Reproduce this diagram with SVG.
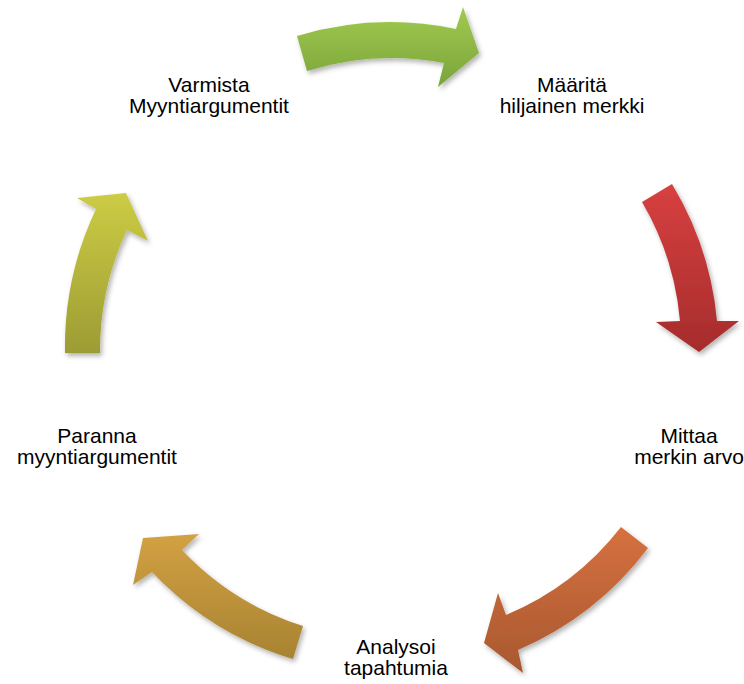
<svg xmlns="http://www.w3.org/2000/svg" width="744" height="684" viewBox="0 0 744 684">
<style>
.lbl{font-family:"Liberation Sans",Arial,sans-serif;font-size:21px;fill:#000;text-anchor:middle}
.arr{filter:url(#sh)}
</style>
<defs>
<filter id="sh" x="-20%" y="-20%" width="150%" height="150%">
<feDropShadow dx="2" dy="3" stdDeviation="2.5" flood-color="#000" flood-opacity="0.3"/>
</filter>
<linearGradient id="gGreen" x1="0" y1="0" x2="0" y2="1"><stop offset="0" stop-color="#a2ca50"/><stop offset="1" stop-color="#7aa43a"/></linearGradient>
<linearGradient id="gRed" x1="0" y1="0" x2="0" y2="1"><stop offset="0" stop-color="#d84040"/><stop offset="1" stop-color="#a62c2c"/></linearGradient>
<linearGradient id="gOrange" x1="0" y1="0" x2="0" y2="1"><stop offset="0" stop-color="#d6713f"/><stop offset="1" stop-color="#a85830"/></linearGradient>
<linearGradient id="gGold" x1="0" y1="0" x2="0" y2="1"><stop offset="0" stop-color="#d2a143"/><stop offset="1" stop-color="#a88332"/></linearGradient>
<linearGradient id="gYel" x1="0" y1="0" x2="0" y2="1"><stop offset="0" stop-color="#cdcc45"/><stop offset="1" stop-color="#9c9c34"/></linearGradient>
</defs>
<rect width="744" height="684" fill="#fff"/>
<g id="connectors">
<path class="arr" fill="url(#gGreen)" d="M297,36 A322,322 0 0 1 456,29 L463,7 L479,53 L438,87 L444,63 A285,285 0 0 0 307,71 Z"/>
<path class="arr" fill="url(#gRed)" d="M672,184 A322,322 0 0 1 717,321 L739,321 L699,352 L656,322 L680,321 A285,285 0 0 0 642,202 Z"/>
<path class="arr" fill="url(#gOrange)" d="M648,548 A322,322 0 0 1 518,650 L523,673 L484,643 L498,593 L506,615 A285,285 0 0 0 621,527 Z"/>
<path class="arr" fill="url(#gGold)" d="M293,659 A322,322 0 0 1 152,572 L133,585 L143,538 L199,534 L182,550 A285,285 0 0 0 303,626 Z"/>
<path class="arr" fill="url(#gYel)" d="M65,353 A322,322 0 0 1 96,209 L77,198 L126,193 L148,241 L127,230 A285,285 0 0 0 100,353 Z"/>
</g>
<g id="node-varmista"><text class="lbl" x="209" y="91.5">Varmista</text><text class="lbl" x="209" y="112.5">Myyntiargumentit</text></g>
<g id="node-maarita"><text class="lbl" x="572" y="91.5">Määritä</text><text class="lbl" x="572" y="112.5">hiljainen merkki</text></g>
<g id="node-mittaa"><text class="lbl" x="689" y="442.5">Mittaa</text><text class="lbl" x="689" y="463.5">merkin arvo</text></g>
<g id="node-analysoi"><text class="lbl" x="396" y="653.5">Analysoi</text><text class="lbl" x="396" y="674.5">tapahtumia</text></g>
<g id="node-paranna"><text class="lbl" x="97" y="442.5">Paranna</text><text class="lbl" x="97" y="463.5">myyntiargumentit</text></g>
</svg>
